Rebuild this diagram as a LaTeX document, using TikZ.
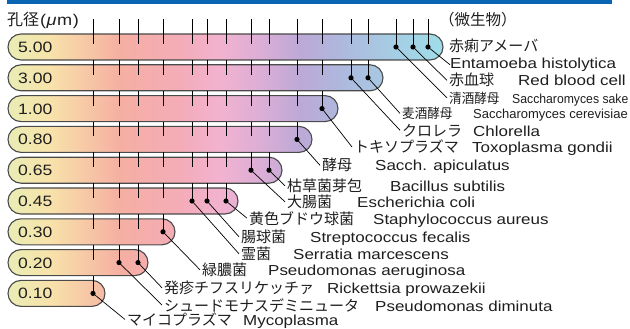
\documentclass[tikz,border=0pt]{standalone}
\usepackage{fontspec}
\setmainfont{Liberation Sans}[FakeStretch=1.17]
\newfontfamily\jp{Noto Sans CJK JP}
\newfontfamily\jpn{Noto Sans CJK JP}[FakeStretch=0.93]
\newfontfamily\lsa{Liberation Sans}[FakeStretch=0.94]
\newfontfamily\lsb{Liberation Sans}
\definecolor{topblue}{HTML}{0A64B4}
\definecolor{barline}{HTML}{4A4A4A}
\definecolor{txt}{HTML}{1E1E1E}
\definecolor{g0}{HTML}{E6EFB6}
\definecolor{g1}{HTML}{F8E2AA}
\definecolor{g2}{HTML}{F5AFA2}
\definecolor{g3}{HTML}{F4ACB8}
\definecolor{g4}{HTML}{F2B2D0}
\definecolor{g5}{HTML}{DCAED6}
\definecolor{g6}{HTML}{BCA9D6}
\definecolor{g7}{HTML}{AEB8DE}
\definecolor{g8}{HTML}{A6CCE3}
\definecolor{g9}{HTML}{9EE0EA}
\tikzset{
  jlab/.style={anchor=base west, inner xsep=2pt, inner ysep=0pt, text=txt, font=\jp\fontsize{15}{15}\selectfont},
  jsml/.style={anchor=base west, inner xsep=2pt, inner ysep=0pt, text=txt, font=\jpn\fontsize{13.5}{13.5}\selectfont},
  llab/.style={anchor=base west, inner sep=0pt, text=txt, font=\fontsize{14.5}{15}\selectfont},
  lsmla/.style={anchor=base west, inner sep=0pt, text=txt, font=\lsa\fontsize{13}{13}\selectfont},
  lsmlb/.style={anchor=base west, inner sep=0pt, text=txt, font=\lsb\fontsize{13}{13}\selectfont},
  val/.style={anchor=base west, inner sep=0pt, text=txt, font=\fontsize{15}{15}\selectfont},
  barshape/.style={draw=barline, line width=1.1pt, rounded corners=13pt},
  tickline/.style={line width=0.7pt, draw=black},
  leader/.style={line width=0.7pt, draw=black},
  dotmark/.style={circle, fill=black, inner sep=0pt, minimum size=5.2pt}
}
\begin{document}
\begin{tikzpicture}[x=1pt, y=-1pt]
\useasboundingbox (0,0) rectangle (630,329);
% top band
\fill[topblue] (7,0) rectangle (612,4);
% gradient bars
\begin{scope}
  \clip[rounded corners=13pt] \foreach \yc/\r in {47/443, 77.8/383, 108.6/338, 139.4/312, 170.2/282, 201/238, 231.8/175, 262.6/148, 293.4/105} { (8,\yc-13) rectangle (\r,\yc+13) };
  \foreach \xa/\xb/\ca/\cb in {0/50/g0/g1, 50/120/g1/g2, 120/180/g2/g3, 180/220/g3/g4, 220/260/g4/g5, 260/300/g5/g6, 300/340/g6/g7, 340/390/g7/g8, 390/450/g8/g9}
    \shade[left color=\ca, right color=\cb] (\xa,30) rectangle (\xb+0.6,310);
\end{scope}
\draw[barshape] \foreach \yc/\r in {47/443, 77.8/383, 108.6/338, 139.4/312, 170.2/282, 201/238, 231.8/175, 262.6/148, 293.4/105} { (8,\yc-13) rectangle (\r,\yc+13) };
% value labels
\foreach \yc/\v [count=\i] in {47/5.00, 77.8/3.00, 108.6/1.00, 139.4/0.80, 170.2/0.65, 201/0.45, 231.8/0.30, 262.6/0.20, 293.4/0.10}
  \node[val] (v\i) at (18,\yc+5.4) {\v};
% plain ticks
\foreach \yc/\tp/\f in {47/19/13, 77.8/60/11, 108.6/90.8/10, 139.4/121.6/9, 170.2/152.4/7, 201/183.2/4, 231.8/214/3, 262.6/244.8/1, 293.4/275.6/0}{
  \foreach \x [count=\k from 0] in {93,119,138,163,192,207,226,251,269,297,322,351,368,396,413,428}{
    \ifnum\k<\f\relax \draw[tickline] (\x,\tp) -- (\x,\yc-3); \fi
  }
}
% dots with stems
\foreach \k/\x/\yc/\tp in {0/93/293.4/275.6, 1/119/262.6/244.8, 2/138/262.6/244.8, 3/163/231.8/214, 4/192/201/183.2, 5/207/201/183.2, 6/226/201/183.2, 7/251/170.2/152.4, 8/269/170.2/152.4, 9/297/139.4/121.6, 10/322/108.6/90.8, 11/351/77.8/60, 12/368/77.8/60, 13/396/47/19, 14/413/47/19, 15/428/47/19}{
  \node[dotmark] (d\k) at (\x,\yc) {};
  \draw[tickline] (\x,\tp) -- (d\k.center);
}
% headings
\node[anchor=base west, inner sep=0pt, text=txt, font=\fontsize{15.5}{15}\selectfont] (hd1) at (7,26) {{\jp\fontsize{16}{16}\selectfont 孔径}\kern1pt(\kern0.5pt\textit{μ}\kern0.5pt m\kern0.5pt)};
\node[anchor=base west, inner sep=0pt, text=txt, font=\jp\fontsize{15.5}{15.5}\selectfont] (hd2) at (439,26) {（微生物）};
% organism labels
\node[jlab] (j1) at (447,51.5) {赤痢アメーバ};
\node[llab] (e1) at (450,68.5) {Entamoeba histolytica};
\node[jlab] (j2) at (447,86) {赤血球};
\node[llab] (e2) at (518,86) {Red blood cell};
\node[jsml] (j3) at (447,103) {清酒酵母};
\node[lsmla] (e3) at (512,103) {Saccharomyces sake};
\node[jsml] (j4) at (400,118.5) {麦酒酵母};
\node[lsmlb] (e4) at (473,118.5) {Saccharomyces cerevisiae};
\node[jlab] (j5) at (400,136) {クロレラ};
\node[llab] (e5) at (473,136) {Chlorella};
\node[jlab] (j6) at (352,153) {トキソプラズマ};
\node[llab] (e6) at (472,153) {Toxoplasma gondii};
\node[jlab] (j7) at (320,171) {酵母};
\node[llab] (e7) at (375,171) {Sacch. apiculatus};
\node[jlab] (j8) at (285,191.5) {枯草菌芽包};
\node[llab] (e8) at (390,191.5) {Bacillus subtilis};
\node[jlab] (j9) at (285,207.5) {大腸菌};
\node[llab] (e9) at (357,207.5) {Escherichia coli};
\node[jlab] (j10) at (247,224) {黄色ブドウ球菌};
\node[llab] (e10) at (373,224) {Staphylococcus aureus};
\node[jlab] (j11) at (239,242.5) {腸球菌};
\node[llab] (e11) at (310,242.5) {Streptococcus fecalis};
\node[jlab] (j12) at (239,259.5) {霊菌};
\node[llab] (e12) at (293,259.5) {Serratia marcescens};
\node[jlab] (j13) at (200,275.5) {緑膿菌};
\node[llab] (e13) at (268,275.5) {Pseudomonas aeruginosa};
\node[jlab] (j14) at (162,293.5) {発疹チフスリケッチァ};
\node[llab] (e14) at (327,293.5) {Rickettsia prowazekii};
\node[jlab] (j15) at (162,311) {シュードモナスデミニュータ};
\node[llab] (e15) at (375,311) {Pseudomonas diminuta};
\node[jlab] (j16) at (125,325.5) {マイコプラズマ};
\node[llab] (e16) at (243,325.5) {Mycoplasma};
% leaders
\draw[leader] (d15.center) -- (e1.west);
\draw[leader] (d14.center) -- (j2.west);
\draw[leader] (d13.center) -- (j3.west);
\draw[leader] (d12.center) -- (j4.west);
\draw[leader] (d11.center) -- (j5.west);
\draw[leader] (d10.center) -- (j6.west);
\draw[leader] (d9.center) -- (j7.west);
\draw[leader] (d8.center) -- (j8.west);
\draw[leader] (d7.center) -- (j9.west);
\draw[leader] (d6.center) -- (j10.west);
\draw[leader] (d5.center) -- (j11.west);
\draw[leader] (d4.center) -- (j12.west);
\draw[leader] (d3.center) -- (j13.west);
\draw[leader] (d2.center) -- (j14.west);
\draw[leader] (d1.center) -- (j15.west);
\draw[leader] (d0.center) -- (j16.west);
\end{tikzpicture}
\end{document}
